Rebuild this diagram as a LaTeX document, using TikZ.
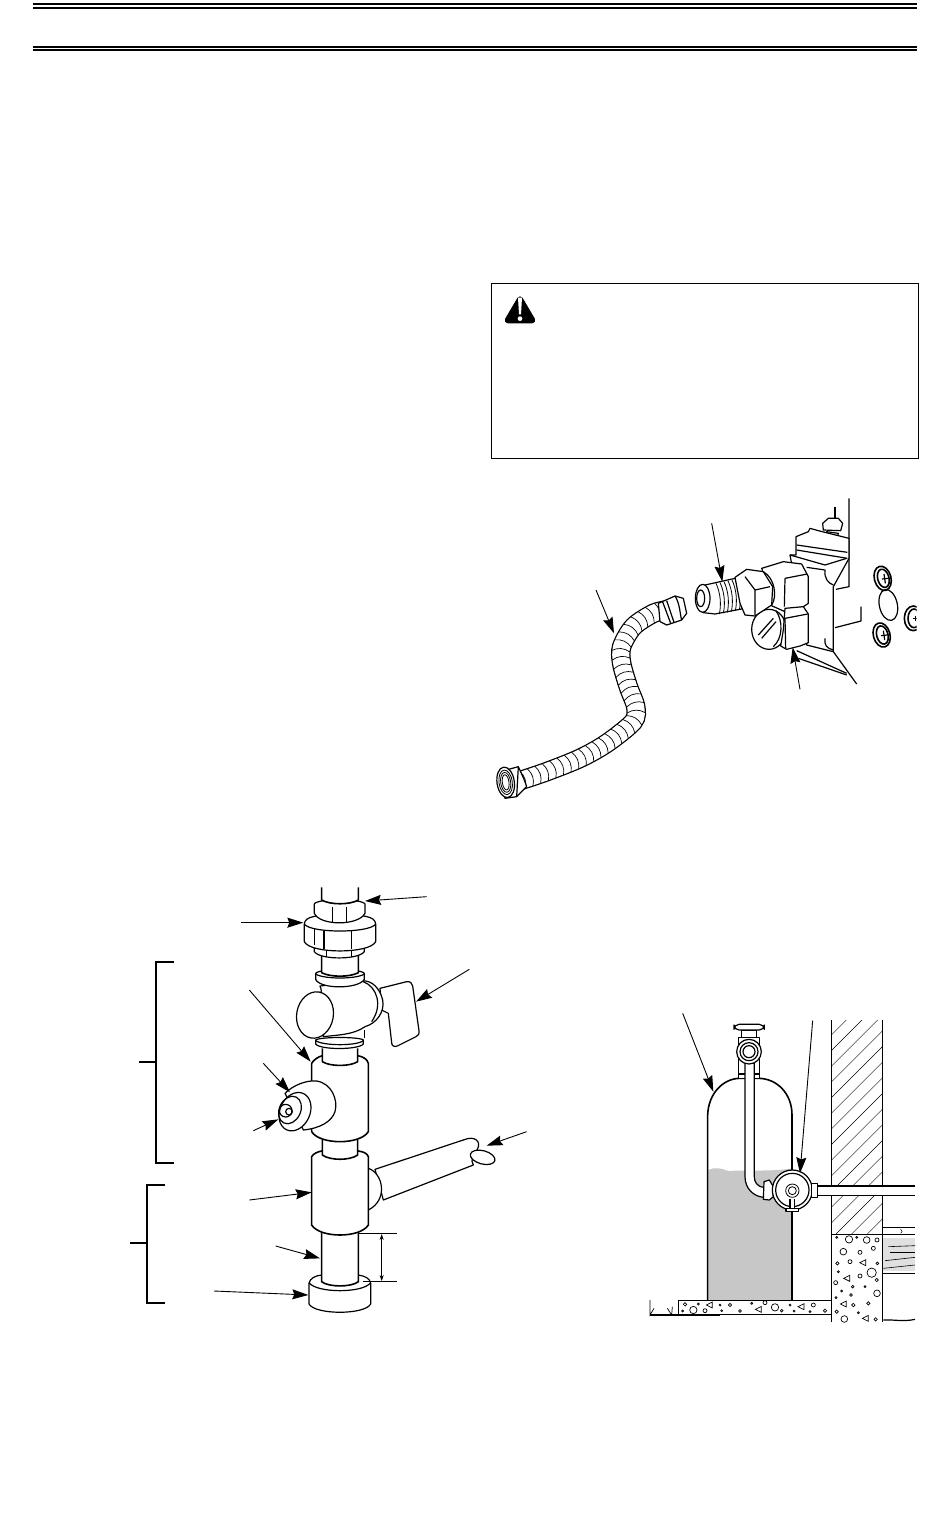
\documentclass[tikz,border=0pt]{standalone}
\usepackage{tikz}
\usetikzlibrary{arrows.meta,decorations.markings}
\tikzset{
  pix/.style={x=1pt,y=-1pt},
  part/.style={line width=1.2pt,line join=round,fill=white},
  edge/.style={line width=1.2pt,line join=round},
  thin edge/.style={line width=0.8pt,line join=round},
  heavy/.style={line width=1.6pt,line join=round},
  rulebar/.style={line width=2pt},
  bracket/.style={line width=1.8pt},
  leader/.style={line width=0.9pt,-{Stealth[length=16pt,width=10pt,inset=2pt]}},
  stone/.style={line width=0.7pt},
  hose rings/.style={postaction={decorate,decoration={markings,
    mark=between positions 0.01 and 0.99 step 8pt with {\draw[black,line width=0.7pt] (0pt,-9pt) .. controls (3.5pt,-3pt) and (3.5pt,3pt) .. (0pt,9pt);}}}}
}
\definecolor{propane}{gray}{0.78}
\begin{document}
\begin{tikzpicture}[pix]
  \useasboundingbox (0,0) rectangle (950,1538);
  % page rules
  \draw[rulebar] (33,4) -- (917,4);
  \draw[rulebar] (33,8) -- (917,8);
  \draw[rulebar] (33,47) -- (917,47);
  \draw[rulebar] (33,50) -- (917,50);
  % warning box
  \begin{scope}[shift={(480,275)},scale=1/3]
    \draw[line width=1.2pt] (34,26) rectangle (1316,550);
    \draw[line width=6pt,line join=round,fill=black] (120,73) -- (83,136) -- (157,136) -- cycle;
    \fill[white] (114,68) -- (126,68) -- (123,118) -- (117,118) -- cycle;
    \fill[white] (120,131) circle (7);
  \end{scope}
  % flexible hose
  \begin{scope}[shift={(490,590)},scale=1/3]
    \def\hosepath{plot[smooth] coordinates {(90,572) (170,545) (270,505) (350,460) (430,395) (437,350) (415,290) (395,220) (395,170) (430,110) (490,70) (530,60)}}
    \draw[line width=19.5pt] \hosepath;
    \draw[white,line width=17pt,hose rings] \hosepath;
    \draw[part] (505,40) -- (555,18) -- (580,25) -- (590,70) -- (575,90) -- (530,105) -- (510,95) -- cycle;
    \draw[edge] (518,36) -- (542,100);
    \draw[edge] (530,32) -- (552,97);
    \draw[edge] (555,18) .. controls (570,40) and (570,75) .. (575,90);
    \draw[part] (30,545) -- (85,530) -- (103,570) -- (110,590) -- (80,620) -- (45,625) -- cycle;
    \draw[part,rotate around={8:(47,577)}] (47,577) ellipse (26 and 46);
    \draw[thin edge,rotate around={8:(47,577)}] (47,577) ellipse (20 and 37);
    \draw[thin edge,rotate around={8:(47,577)}] (47,577) ellipse (15 and 30);
    \draw[thin edge,rotate around={8:(47,577)}] (47,577) ellipse (10 and 23);
    \draw[edge] (85,530) -- (80,620);
    \draw[leader] (318,0) -- (372,130);
  \end{scope}
  % gas valve, fitting side
  \begin{scope}[shift={(690,490)},scale=1/3]
    \draw[edge] (477,25) -- (477,290) -- (438,298);
    \draw[edge] (513,350) -- (513,393) -- (435,413);
    \draw[edge] (435,50) -- (435,85);
    \draw[part] (400,120) -- (398,100) -- (415,85) -- (445,85) -- (458,100) -- (452,122) -- cycle;
    \draw[part] (410,125) -- (445,130) -- (443,138) -- (412,136) -- cycle;
    \draw[part] (318,195) -- (318,140) -- (355,125) -- (360,115) -- (385,122) -- (477,145) -- (477,205) -- (430,290) -- (430,485) -- (350,465) -- (300,195) -- cycle;
    \draw[edge] (320,165) -- (472,187);
    \draw[edge] (320,180) -- (472,205);
    \draw[heavy] (430,290) -- (430,485);
    \draw[edge] (300,195) -- (405,225) -- (470,205);
    \draw[edge] (350,232) -- (405,240) .. controls (402,265) and (415,280) .. (430,285);
    \draw[edge] (405,445) .. controls (402,465) and (410,475) .. (430,480);
    \draw[edge] (430,485) -- (500,582);
    \draw[edge] (320,482) -- (470,550);
    \draw[edge] (325,505) -- (470,555);
    \draw[part] (237,418) ellipse (52 and 60);
    \draw[edge] (258,362) .. controls (280,395) and (278,445) .. (250,470);
    \draw[edge] (205,435) -- (250,385);
    \draw[edge] (215,445) -- (258,395);
    \draw[part] (215,235) -- (280,215) -- (335,222) -- (355,260) -- (355,340) -- (340,350) -- (285,365) -- (240,345) -- (230,280) -- cycle;
    \draw[edge] (285,265) -- (352,252);
    \draw[edge] (285,265) -- (283,350);
    \draw[part] (285,355) -- (340,350) -- (355,372) -- (355,458) -- (330,468) -- (290,478) -- (272,468) -- (280,420) -- cycle;
    \draw[edge] (285,385) -- (353,372);
    \draw[edge] (285,385) -- (287,475);
    % threaded nose
    \draw[part] (45,285) -- (135,265) -- (165,355) -- (75,372) -- (40,368) -- cycle;
    \foreach \thr in {0,1,...,6}
      \draw[thin edge] ({78+\thr*12},{280-\thr*2.5}) .. controls ({92+\thr*12},{310-\thr*2.5}) and ({94+\thr*12},{345-\thr*2.5}) .. ({88+\thr*12},{372-\thr*2.5});
    \draw[part] (38,325) ellipse (22 and 42);
    \draw[edge] (32,325) ellipse (12 and 25);
    \draw[part] (135,262) -- (170,238) -- (220,245) -- (248,290) -- (245,345) -- (195,378) -- (165,375) -- (150,340) -- cycle;
    \draw[edge] (165,260) -- (195,300) -- (195,375);
    \draw[edge] (195,300) -- (240,290);
    \draw[edge] (220,245) .. controls (255,265) and (262,320) .. (245,345);
    \draw[leader] (65,100) -- (97,275);
    \draw[leader] (330,598) -- (308,472);
  \end{scope}
  % screws
  \begin{scope}[shift={(860,550)},scale=1/3]
    \draw[heavy,rotate around={15:(68,85)}] (68,85) ellipse (25 and 37);
    \draw[heavy,rotate around={15:(70,85)}] (70,85) ellipse (17 and 28);
    \draw[edge] (72,72) -- (76,100);
    \draw[edge] (66,87) -- (84,85);
    \draw[edge,rotate around={12:(85,165)}] (85,165) ellipse (27 and 47);
    \draw[heavy,rotate around={15:(65,255)}] (65,255) ellipse (25 and 37);
    \draw[heavy,rotate around={15:(67,255)}] (67,255) ellipse (17 and 28);
    \draw[edge] (70,242) -- (74,270);
    \draw[edge] (63,257) -- (81,255);
    \begin{scope}
      \clip (120,150) rectangle (170,260);
      \draw[heavy] (160,205) ellipse (27 and 37);
      \draw[heavy] (162,205) ellipse (18 and 28);
      \draw[edge] (160,205) -- (172,205);
      \draw[edge] (167,197) -- (167,203);
      \draw[edge] (167,208) -- (167,214);
    \end{scope}
  \end{scope}
  % regulator assembly
  \begin{scope}[shift={(120,880)},scale=1/3]
    \draw[bracket] (162,245) -- (108,245) -- (108,848) -- (162,848);
    \draw[bracket] (58,547) -- (108,547);
    \draw[bracket] (135,915) -- (80,915) -- (80,1268) -- (135,1268);
    \draw[bracket] (30,1090) -- (80,1090);
    % cap and drip pipe
    \draw[part] (567,1210) .. controls (570,1195) and (585,1187) .. (605,1185) -- (715,1185) .. controls (735,1188) and (750,1195) .. (752,1210) -- (752,1272) .. controls (735,1305) and (585,1305) .. (567,1272) -- cycle;
    \draw[edge] (567,1208) .. controls (590,1240) and (730,1240) .. (752,1208);
    \draw[heavy,fill=white] (605,1055) -- (605,1205) .. controls (625,1222) and (695,1222) .. (715,1205) -- (715,1055);
    % lower tee
    \draw[part] (765,868) -- (1030,780) .. controls (1065,765) and (1085,785) .. (1072,808) .. controls (1060,825) and (1050,840) .. (1060,855) -- (790,960) -- cycle;
    \draw[part] (745,865) .. controls (790,880) and (805,960) .. (745,990) -- cycle;
    \draw[edge,fill=white,rotate around={-15:(1088,832)}] (1088,832) ellipse (38 and 20);
    \draw[heavy,fill=white] (575,830) .. controls (580,820) and (595,815) .. (605,813) -- (715,813) .. controls (730,815) and (742,820) .. (745,830) -- (745,1035) .. controls (720,1075) and (600,1075) .. (575,1035) -- cycle;
    % pipe between tees
    \draw[heavy,fill=white] (607,775) -- (607,825) .. controls (630,842) and (690,842) .. (713,825) -- (713,775);
    % upper tee
    \draw[heavy,fill=white] (575,550) .. controls (580,540) and (595,530) .. (607,527) -- (713,527) .. controls (730,530) and (742,538) .. (745,550) -- (745,755) .. controls (720,795) and (600,795) .. (575,755) -- cycle;
    \draw[part] (495,640) .. controls (520,615) and (560,600) .. (590,603) .. controls (635,610) and (655,660) .. (645,695) .. controls (635,725) and (600,745) .. (550,750) -- cycle;
    \draw[part,rotate around={-25:(525,695)}] (525,695) ellipse (45 and 60);
    \draw[edge,rotate around={-25:(510,690)}] (510,690) ellipse (32 and 43);
    \draw[edge] (497,692) circle (19);
    \draw[edge] (507,695) circle (10);
    \draw[heavy,fill=white] (607,505) -- (607,545) .. controls (630,560) and (690,560) .. (713,545) -- (713,505);
    % shutoff valve
    \draw[part] (587,480) .. controls (600,470) and (720,470) .. (730,480) -- (730,492) .. controls (715,510) and (600,510) .. (587,492) -- cycle;
    \draw[edge] (587,482) .. controls (610,498) and (710,498) .. (730,482);
    \draw[edge] (733,450) -- (733,475);
    \draw[part] (780,325) -- (860,305) .. controls (870,303) and (877,310) .. (878,318) -- (897,452) .. controls (898,462) and (895,467) .. (888,470) -- (832,498) .. controls (822,502) and (815,497) .. (815,488) -- (805,400) -- (785,390) -- cycle;
    \draw[part] (600,318) .. controls (605,330) and (605,335) .. (600,345) -- (610,470) .. controls (650,465) and (700,465) .. (735,440) .. controls (770,430) and (795,395) .. (788,360) .. controls (780,325) and (755,300) .. (728,303) -- cycle;
    \draw[edge] (730,305) .. controls (770,320) and (790,375) .. (755,425);
    \draw[part,rotate around={-10:(585,405)}] (585,405) ellipse (55 and 70);
    \draw[part] (587,280) .. controls (600,265) and (720,265) .. (733,280) -- (733,298) .. controls (715,328) and (600,328) .. (587,298) -- cycle;
    \draw[edge] (587,282) .. controls (610,298) and (710,298) .. (733,282);
    \draw[heavy,fill=white] (605,225) -- (605,278) .. controls (630,292) and (690,292) .. (715,278) -- (715,225);
    % union nuts
    \draw[part] (583,195) -- (583,215) .. controls (600,240) and (715,240) .. (733,215) -- (733,195) -- cycle;
    \draw[edge] (620,205) -- (620,232);
    \draw[edge] (695,205) -- (695,232);
    \draw[part] (553,132) .. controls (555,108) and (590,105) .. (660,105) .. controls (730,105) and (765,108) .. (767,132) -- (767,185) .. controls (750,222) and (570,222) .. (553,185) -- cycle;
    \draw[edge] (553,132) .. controls (570,160) and (750,160) .. (767,132);
    \draw[edge] (612,152) -- (612,208);
    \draw[edge] (695,152) -- (695,208);
    \draw[edge] (583,148) -- (583,195);
    \draw[part] (583,100) -- (583,72) .. controls (590,55) and (725,55) .. (735,72) -- (735,100) .. controls (715,138) and (600,138) .. (583,100) -- cycle;
    \draw[edge] (638,80) -- (638,127);
    \draw[edge] (680,80) -- (680,127);
    \draw[heavy,fill=white] (605,22) -- (605,60) .. controls (630,75) and (690,75) .. (715,60) -- (715,22);
    % dimension
    \draw[edge] (715,1060) -- (830,1060);
    \draw[edge] (730,1205) -- (830,1205);
    \draw[line width=0.8pt,{Stealth[length=6pt,width=4pt]}-{Stealth[length=6pt,width=4pt]}] (785,1062) -- (785,1203);
    % callouts
    \draw[leader] (920,50) -- (735,63);
    \draw[leader] (362,128) -- (550,128);
    \draw[leader] (1048,268) -- (888,365);
    \draw[leader] (388,330) -- (572,545);
    \draw[leader] (430,550) -- (510,637);
    \draw[leader] (400,752) -- (475,718);
    \draw[leader] (1220,755) -- (1100,797);
    \draw[leader] (388,960) -- (575,937);
    \draw[leader] (467,1098) -- (600,1135);
    \draw[leader] (282,1233) -- (565,1245);
  \end{scope}
  % propane tank and house wall
  \begin{scope}[shift={(640,1000)},scale=1/3]
    \fill[propane] (205,510) .. controls (225,500) and (245,505) .. (265,513) .. controls (300,510) and (410,515) .. (456,505) -- (456,900) -- (205,900) -- cycle;
    \draw[heavy] (203,900) -- (203,345) .. controls (205,280) and (250,235) .. (300,235) -- (355,235) .. controls (410,235) and (456,280) .. (456,345) -- (456,900);
    \draw[edge,fill=white] (305,90) rectangle (350,113);
    \draw[part,rounded corners=5pt] (282,73) rectangle (373,90);
    \draw[part] (295,113) rectangle (358,235);
    \draw[edge] (295,222) -- (358,222);
    \draw[part] (315,190) -- (315,530) .. controls (315,565) and (340,590) .. (372,592) -- (372,562) .. controls (350,560) and (343,545) .. (343,530) -- (343,190) -- cycle;
    \draw[part] (327,155) circle (37);
    \draw[edge] (327,155) circle (27);
    \draw[edge] (327,155) circle (18);
    \draw[part] (372,545) -- (388,540) -- (400,560) -- (400,590) -- (388,600) -- (370,598) -- cycle;
    \draw[part] (457,570) circle (60);
    \draw[edge] (457,570) circle (50);
    \draw[thin edge] (457,572) circle (20);
    \draw[thin edge] (457,572) circle (12);
    \draw[part] (450,596) -- (450,625) -- (464,625) -- (464,596);
    \draw[part] (438,625) rectangle (475,635);
    % wall hatching
    \begin{scope}
      \clip (574,60) rectangle (727,703);
      \foreach \hat in {0,1,...,17}
        \draw[line width=0.4pt] (574,{105+\hat*47}) -- (727,{-48+\hat*47});
    \end{scope}
    \draw[edge] (574,60) -- (574,965);
    \draw[edge] (727,60) -- (727,965);
    \draw[edge] (574,703) -- (727,703);
    % gas line through wall
    \draw[part] (515,550) -- (533,550) -- (533,592) -- (515,592) -- cycle;
    \fill[white] (533,558) rectangle (825,587);
    \draw[edge] (533,558) -- (825,558);
    \draw[edge] (533,587) -- (825,587);
    % floor and sill
    \fill[black!12] (730,715) rectangle (825,812);
    \draw[edge] (727,682) -- (825,682);
    \draw[edge] (727,703) -- (825,703);
    \draw[edge] (727,820) -- (825,820);
    \draw[line width=0.5pt] (782,688) .. controls (788,692) and (788,696) .. (782,700);
    \draw[line width=0.6pt] (745,740) -- (825,737);
    \draw[line width=0.6pt] (750,757) -- (825,757);
    \draw[line width=0.6pt] (735,782) -- (825,772);
    \draw[line width=0.6pt] (730,805) -- (825,795);
    \draw[edge] (730,960) .. controls (760,958) and (790,966) .. (825,958);
    % slab and ground
    \draw[edge] (115,901) rectangle (574,943);
    \draw[edge] (30,945) -- (240,945);
    \draw[line width=0.7pt] (30,900) -- (30,945) -- (42,925);
    \draw[line width=0.7pt] (82,925) -- (95,945) -- (97,920);
    % aggregate
    \foreach \sx/\sy/\sr in {627/718/11,680/720/10,711/720/6,610/755/10,660/757/6,700/745/6,592/790/5,630/785/6,695/818/14,660/828/6,710/840/5,587/848/6,638/860/4,711/880/10,633/885/4,685/910/5,640/915/5,590/935/5,613/957/10,707/958/5,590/712/3,650/712/3,675/860/3,605/873/3,712/790/4,595/815/3,588/893/3,655/938/3,135/913/5,160/930/11,195/932/6,270/915/5,300/933/4,375/908/6,405/922/11,425/932/4,520/915/6,555/932/5,175/912/3,240/915/3,335/910/3,450/915/3,510/935/3,128/933/3,245/932/3,462/933/3}
      \draw[stone] (\sx,\sy) circle (\sr);
    \foreach \tx/\ty in {668/788,620/835,610/912,676/955,208/915,355/928,483/920}
      \draw[stone] (\tx-9,\ty) -- (\tx+9,\ty-9) -- (\tx+9,\ty+9) -- cycle;
    \draw[leader] (128,40) -- (220,275);
    \draw[leader] (518,62) -- (480,520);
  \end{scope}
\end{tikzpicture}
\end{document}
